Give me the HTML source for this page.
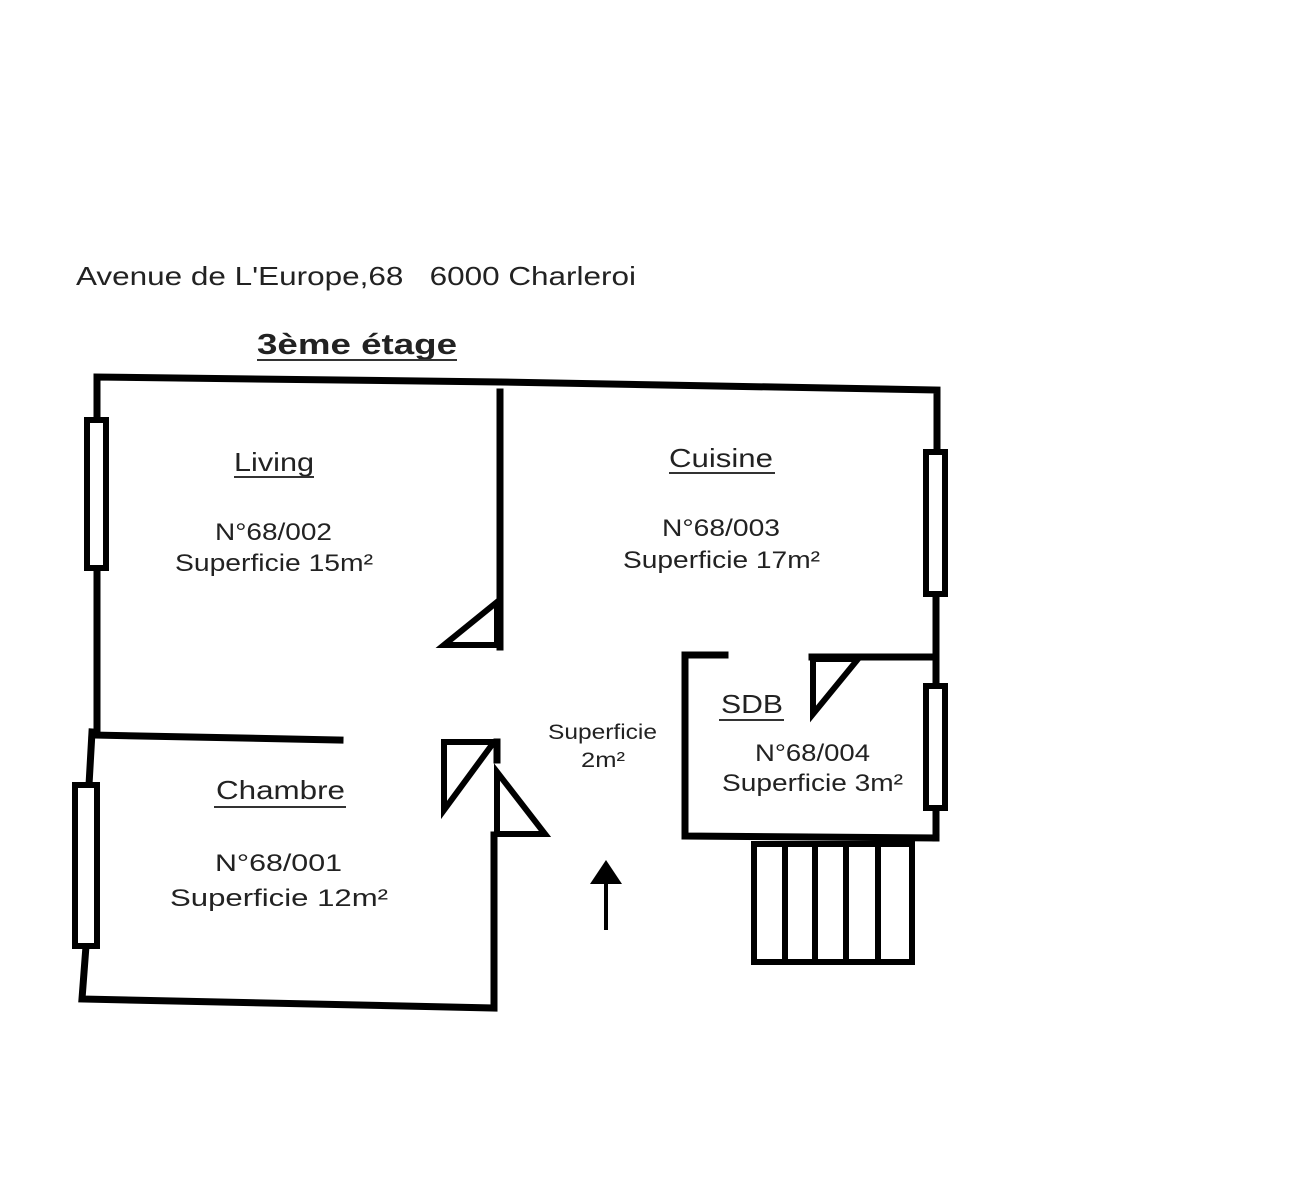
<!DOCTYPE html>
<html><head><meta charset="utf-8"><style>
html,body{margin:0;padding:0;background:#fff;}
svg{display:block;}
text{font-family:"Liberation Sans",sans-serif;fill:#222;}
</style></head><body>
<svg width="1305" height="1200" viewBox="0 0 1305 1200" xmlns="http://www.w3.org/2000/svg">
<g stroke="#000" stroke-width="7" fill="none" stroke-linecap="square">
<polyline points="97,420 97,377 500,382 937,390 937,452"/>
<line x1="97" y1="568" x2="97" y2="732"/>
<line x1="92" y1="732" x2="89" y2="785"/>
<polyline points="86,946 82,999 494,1008 494,835"/>
<line x1="497" y1="760" x2="497" y2="742"/>
<line x1="500" y1="392" x2="500" y2="647"/>
<line x1="92" y1="735" x2="340" y2="740"/>
<line x1="936" y1="594" x2="936" y2="686"/>
<line x1="936" y1="808" x2="936" y2="838"/>
<polyline points="725,655 685,655 685,836 936,838"/>
<line x1="812" y1="657" x2="936" y2="657"/>
</g>
<g stroke="#000" stroke-width="6" fill="#fff">
<rect x="87" y="420" width="19" height="148"/>
<rect x="75" y="785" width="22" height="161"/>
<rect x="926" y="452" width="19" height="142"/>
<rect x="926" y="686" width="19" height="122"/>
</g>
<g stroke="#000" stroke-width="6" fill="none" stroke-linejoin="miter">
<polygon points="444,645 497,602 497,645"/>
<polygon points="444,742 494,742 444,810"/>
<polygon points="497,772 545,834 497,834"/>
<polygon points="813,659 858,659 813,714"/>
<rect x="754" y="844" width="158" height="118"/>
<line x1="785" y1="844" x2="785" y2="962"/>
<line x1="815" y1="844" x2="815" y2="962"/>
<line x1="846" y1="844" x2="846" y2="962"/>
<line x1="878" y1="844" x2="878" y2="962"/>
</g>
<line x1="606" y1="930" x2="606" y2="880" stroke="#000" stroke-width="4"/>
<polygon points="590,884 606,860 622,884" fill="#000"/>

<text x="76" y="285" font-size="26" textLength="560" lengthAdjust="spacingAndGlyphs">Avenue de L'Europe,68&#160;&#160;&#160;6000 Charleroi</text>
<text x="257" y="354" font-size="29" font-weight="bold" textLength="200" lengthAdjust="spacingAndGlyphs">3ème étage</text>
<line x1="257" y1="360" x2="457" y2="360" stroke="#333" stroke-width="2"/>

<text x="234" y="471" font-size="26" textLength="80" lengthAdjust="spacingAndGlyphs">Living</text>
<line x1="234" y1="477" x2="314" y2="477" stroke="#333" stroke-width="2"/>
<text x="215" y="540" font-size="24" textLength="117" lengthAdjust="spacingAndGlyphs">N°68/002</text>
<text x="175" y="571" font-size="24" textLength="198" lengthAdjust="spacingAndGlyphs">Superficie 15m²</text>

<text x="669" y="467" font-size="26" textLength="104" lengthAdjust="spacingAndGlyphs">Cuisine</text>
<line x1="669" y1="473" x2="775" y2="473" stroke="#333" stroke-width="2"/>
<text x="662" y="536" font-size="24" textLength="118" lengthAdjust="spacingAndGlyphs">N°68/003</text>
<text x="623" y="568" font-size="24" textLength="197" lengthAdjust="spacingAndGlyphs">Superficie 17m²</text>

<text x="216" y="799" font-size="26" textLength="129" lengthAdjust="spacingAndGlyphs">Chambre</text>
<line x1="214" y1="807" x2="346" y2="807" stroke="#333" stroke-width="2"/>
<text x="215" y="871" font-size="24" textLength="127" lengthAdjust="spacingAndGlyphs">N°68/001</text>
<text x="170" y="906" font-size="24" textLength="218" lengthAdjust="spacingAndGlyphs">Superficie 12m²</text>

<text x="548" y="739" font-size="21" textLength="109" lengthAdjust="spacingAndGlyphs">Superficie</text>
<text x="581" y="767" font-size="21" textLength="44" lengthAdjust="spacingAndGlyphs">2m²</text>

<text x="721" y="713" font-size="26" textLength="62" lengthAdjust="spacingAndGlyphs">SDB</text>
<line x1="719" y1="720" x2="784" y2="720" stroke="#333" stroke-width="2"/>
<text x="755" y="761" font-size="24" textLength="115" lengthAdjust="spacingAndGlyphs">N°68/004</text>
<text x="722" y="791" font-size="24" textLength="181" lengthAdjust="spacingAndGlyphs">Superficie 3m²</text>
</svg>
</body></html>
